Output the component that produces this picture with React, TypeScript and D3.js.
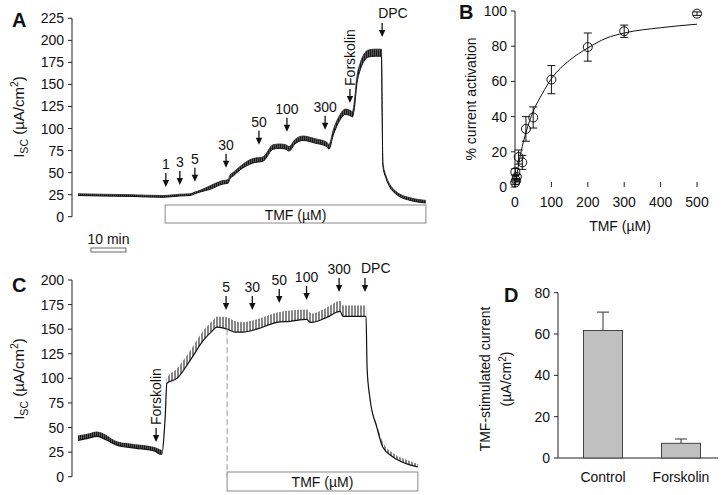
import React from "react";
import * as d3 from "d3";

const FONT = "'Liberation Sans', Arial, Helvetica, sans-serif";

// ---------- Panel A: Isc trace (time in min) ----------
const aTime = [0, 6.3, 14.9, 24.3, 26.3, 29.1, 32, 33.4, 34.9, 37.7, 41.4, 42.9, 43.4, 44.3, 46.3, 49.1, 50.6, 52.6, 53.1, 55.7, 57.7, 59.4, 60.3, 62, 64.3, 67.7, 71.1, 71.7, 72.9, 74.9, 76.3, 78, 78.4, 78.9, 79.7, 80.6, 82, 82.9, 84.9, 86.3, 86.7, 86.9, 87.1, 88, 89.1, 90.6, 92, 94.9, 99.4];
const aLow = [24, 23.5, 23, 22, 22.5, 23.5, 24, 26, 28, 31, 37, 38, 43, 46, 53, 59.5, 61.5, 62.5, 63.5, 76.5, 77.5, 76.5, 74.5, 82.5, 86.5, 83.5, 79.5, 76.5, 92, 110, 116, 114, 113, 121, 151, 166, 178, 181, 182, 182, 182, 118, 58, 43.5, 33.5, 26.5, 22.5, 18.5, 15.5];
const aHigh = [26, 25.5, 25, 24, 24.5, 25.5, 26, 28, 30, 35, 41, 42, 47, 50, 57, 64.5, 66.5, 67.5, 68.5, 81.5, 82.5, 81.5, 79.5, 87.5, 91.5, 88.5, 84.5, 81.5, 98, 116, 122, 120, 119, 129, 159, 174, 186, 189, 190, 190, 190, 122, 62, 46.5, 36.5, 29.5, 25.5, 21.5, 18.5];
const aYTicks = [0, 25, 50, 75, 100, 125, 150, 175, 200, 225];
const aArrowLabels = ["1", "3", "5", "30", "50", "100", "300", "Forskolin", "DPC"];
const aArrowTimes = [25.1, 29.1, 33.4, 42.3, 51.7, 59.7, 70.6, 77.7, 86.9];
const aArrowTips = [33.7, 36, 39.5, 55.4, 81.5, 96.3, 98.6, 129, 203.8];
const aTmfRange = [24.9, 99.4];
const scaleBarMin = [3.7, 13.7];

// ---------- Panel B: dose response ----------
const bConc = [0.5, 1, 3, 5, 10, 20, 30, 50, 100, 200, 300, 500];
const bAct = [2.5, 8.5, 3.8, 5.7, 17, 14, 33, 39.5, 61, 79.5, 88.5, 98.5];
const bErr = [1, 2, 1, 1.5, 4, 4, 7, 6, 8, 8, 3.5, 1];
const bFitX = [0, 5, 10, 20, 30, 50, 75, 100, 150, 200, 250, 300, 400, 500];
const bFitY = [0, 7, 13, 23, 31, 43, 53, 61.5, 72, 79, 84.5, 87.5, 90.5, 92.5];
const bXTicks = [0, 100, 200, 300, 400, 500];
const bYTicks = [0, 20, 40, 60, 80, 100];

// ---------- Panel C: Isc trace with forskolin first ----------
const cTime = [0, 2.9, 5.4, 8.3, 11.1, 16.3, 22, 23.4, 24, 24.9, 25.4, 28.3, 32, 35.7, 38.3, 39.7, 42.6, 44.9, 47.1, 51.1, 56.9, 60.6, 65.4, 66.3, 66.9, 71.1, 74.9, 75.7, 82.3, 82.6, 83.4, 85.4, 87.1, 90, 94, 97.1];
const cLow = [37, 39, 41, 37, 32, 29, 26, 23, 23, 60, 95, 100, 118, 138, 148, 152, 150, 147, 147, 150, 157, 158, 160, 157, 157, 162, 168, 163, 163, 110, 80, 50, 30, 20, 13, 10];
const cHigh = [42, 44, 46, 42, 36, 33, 30, 28, 27, 65, 100, 110, 128, 148, 158, 163, 162, 158, 157, 160, 167, 169, 170, 167, 166, 172, 179, 174, 174, 112, 82, 53, 35, 24, 17, 13];
const cYTicks = [0, 25, 50, 75, 100, 125, 150, 175, 200];
const cArrowLabels = ["Forskolin", "5", "30", "50", "100", "300", "DPC"];
const cArrowTimes = [22.3, 42.3, 49.8, 57.5, 65.3, 74.6, 82];
const cArrowTips = [35.3, 169.5, 169.5, 176.6, 179.7, 187.8, 187.8];
const cTmfRange = [42.6, 97.1];
const cDashTime = 42.6;
const cDashTop = 150;

// ---------- Panel D: bar chart ----------
const dGroups = ["Control", "Forskolin"];
const dValues = [61.7, 7.1];
const dErrors = [8.9, 2.1];
const dYTicks = [0, 20, 40, 60, 80];

function Arrow({ x, tip, len = 14 }: { x: number; tip: number; len?: number }) {
  const head = 7;
  return (
    <g>
      <line x1={x} x2={x} y1={tip - len} y2={tip - head + 1} stroke="#111" strokeWidth={1.3} />
      <path d={`M${x - 3.2},${tip - head} L${x + 3.2},${tip - head} L${x},${tip} Z`} fill="#111" />
    </g>
  );
}

function ArrowSet({ labels, times, tips, tx, ty }: any) {
  return (
    <g>
      {labels.map((lab: string, i: number) => {
        const x = tx(times[i]);
        const tip = ty(tips[i]);
        const top = tip - 14;
        let label;
        if (lab === "Forskolin") {
          label = (
            <text transform={`translate(${x + 5},${top - 3}) rotate(-90)`} fontSize={14}>
              {lab}
            </text>
          );
        } else if (lab === "DPC") {
          label = (
            <text x={x - 4} y={top - 5} fontSize={14}>
              {lab}
            </text>
          );
        } else {
          label = (
            <text x={x} y={top - 4} fontSize={14} textAnchor="middle">
              {lab}
            </text>
          );
        }
        return (
          <g key={lab + i}>
            <Arrow x={x} tip={tip} />
            {label}
          </g>
        );
      })}
    </g>
  );
}

function YAxis({ x, scale, ticks }: any) {
  const [d0, d1] = scale.domain();
  return (
    <g>
      <line x1={x} x2={x} y1={scale(d0)} y2={scale(d1)} stroke="#222" strokeWidth={1} />
      {ticks.map((t: number) => (
        <g key={t}>
          <line x1={x - 4} x2={x} y1={scale(t)} y2={scale(t)} stroke="#222" />
          <text x={x - 8} y={scale(t) + 5} textAnchor="end" fontSize={14}>
            {t}
          </text>
        </g>
      ))}
    </g>
  );
}

function IscLabel({ x, y }: { x: number; y: number }) {
  return (
    <text transform={`translate(${x},${y}) rotate(-90)`} textAnchor="middle" fontSize={15}>
      I
      <tspan fontSize={10.5} dy={3.5}>SC</tspan>
      <tspan dy={-3.5}> (µA/cm</tspan>
      <tspan fontSize={10.5} dy={-6}>2</tspan>
      <tspan dy={6}>)</tspan>
    </text>
  );
}

export default function App() {
  const tx = d3.scaleLinear().domain([0, 100]).range([78, 428]);

  // Panel A
  const ayA = d3.scaleLinear().domain([0, 225]).range([216.7, 18.3]);
  const idxA = d3.range(aTime.length);
  const areaA = d3
    .area<number>()
    .x((i) => tx(aTime[i]))
    .y0((i) => ayA(aLow[i]))
    .y1((i) => ayA(aHigh[i]))
    .curve(d3.curveMonotoneX);
  const lowA = d3.line<number>().x((i) => tx(aTime[i])).y((i) => ayA(aLow[i])).curve(d3.curveMonotoneX);
  const highA = d3.line<number>().x((i) => tx(aTime[i])).y((i) => ayA(aHigh[i])).curve(d3.curveMonotoneX);

  // Panel C
  const ayC = d3.scaleLinear().domain([0, 200]).range([476.7, 280]);
  const areaC = d3
    .area<number>()
    .x((i) => tx(cTime[i]))
    .y0((i) => ayC(cLow[i]))
    .y1((i) => ayC(cHigh[i]))
    .curve(d3.curveMonotoneX);
  const lowC = d3.line<number>().x((i) => tx(cTime[i])).y((i) => ayC(cLow[i])).curve(d3.curveMonotoneX);
  const idxCdark = d3.range(0, 9);
  const idxChatch = d3.range(8, cTime.length);

  // Panel B
  const bx = d3.scaleLinear().domain([0, 500]).range([515, 697]);
  const by = d3.scaleLinear().domain([0, 100]).range([187, 11]);
  const fitLine = d3
    .line<number>()
    .x((i) => bx(bFitX[i]))
    .y((i) => by(bFitY[i]))
    .curve(d3.curveMonotoneX);

  // Panel D
  const dx = d3.scaleBand<string>().domain(dGroups).range([564, 720]).paddingInner(0.5).paddingOuter(0.25);
  const dy = d3.scaleLinear().domain([0, 80]).range([458, 292.7]);

  return (
    <svg
      width={722}
      height={495}
      style={{ position: "absolute", left: 0, top: 0, background: "#fff" }}
      fontFamily={FONT}
      fill="#111"
    >
      <defs>
        <pattern id="hatchA" patternUnits="userSpaceOnUse" width={2} height={20}>
          <rect width={2} height={20} fill="#666" />
          <line x1={0.6} x2={0.6} y1={0} y2={20} stroke="#1a1a1a" strokeWidth={1.2} />
        </pattern>
        <pattern id="hatchC" patternUnits="userSpaceOnUse" width={3} height={20}>
          <rect width={3} height={20} fill="#fff" />
          <line x1={1} x2={1} y1={0} y2={20} stroke="#222" strokeWidth={1.1} />
        </pattern>
      </defs>

      {/* ===== Panel A ===== */}
      <text x={12} y={27} fontSize={20} fontWeight="bold">A</text>
      <YAxis x={72} scale={ayA} ticks={aYTicks} />
      <IscLabel x={24} y={117} />
      <path d={areaA(idxA) || ""} fill="url(#hatchA)" stroke="none" />
      <path d={highA(idxA) || ""} fill="none" stroke="#222" strokeWidth={0.8} />
      <path d={lowA(idxA) || ""} fill="none" stroke="#111" strokeWidth={1} />
      <ArrowSet labels={aArrowLabels} times={aArrowTimes} tips={aArrowTips} tx={tx} ty={ayA} />
      <rect
        x={tx(aTmfRange[0])}
        y={205}
        width={tx(aTmfRange[1]) - tx(aTmfRange[0])}
        height={18}
        fill="#fff"
        stroke="#888"
        strokeWidth={1}
      />
      <text x={(tx(aTmfRange[0]) + tx(aTmfRange[1])) / 2} y={220} textAnchor="middle" fontSize={14}>
        TMF (µM)
      </text>
      <text x={(tx(scaleBarMin[0]) + tx(scaleBarMin[1])) / 2} y={244} textAnchor="middle" fontSize={14}>
        10 min
      </text>
      <rect
        x={tx(scaleBarMin[0])}
        y={248}
        width={tx(scaleBarMin[1]) - tx(scaleBarMin[0])}
        height={4}
        fill="#fff"
        stroke="#666"
        strokeWidth={1}
      />

      {/* ===== Panel B ===== */}
      <text x={459} y={19} fontSize={20} fontWeight="bold">B</text>
      <line x1={515} x2={515} y1={by(0)} y2={by(100)} stroke="#222" />
      {bYTicks.map((t) => (
        <g key={t}>
          <line x1={511} x2={515} y1={by(t)} y2={by(t)} stroke="#222" />
          <text x={507} y={by(t) + 5} textAnchor="end" fontSize={14}>{t}</text>
        </g>
      ))}
      {bXTicks.map((t) => (
        <g key={t}>
          <line x1={bx(t)} x2={bx(t)} y1={by(0)} y2={by(0) - 5} stroke="#222" />
          <text x={bx(t)} y={207} textAnchor="middle" fontSize={14}>{t}</text>
        </g>
      ))}
      <text x={620} y={231} textAnchor="middle" fontSize={14}>TMF (µM)</text>
      <text transform={`translate(476,99) rotate(-90)`} textAnchor="middle" fontSize={14}>
        % current activation
      </text>
      <path d={fitLine(d3.range(bFitX.length)) || ""} fill="none" stroke="#111" strokeWidth={1} />
      {bConc.map((c, i) => {
        const x = bx(c);
        return (
          <g key={i}>
            <line x1={x} x2={x} y1={by(bAct[i] - bErr[i])} y2={by(bAct[i] + bErr[i])} stroke="#111" />
            <line x1={x - 4} x2={x + 4} y1={by(bAct[i] - bErr[i])} y2={by(bAct[i] - bErr[i])} stroke="#111" />
            <line x1={x - 4} x2={x + 4} y1={by(bAct[i] + bErr[i])} y2={by(bAct[i] + bErr[i])} stroke="#111" />
            <circle cx={x} cy={by(bAct[i])} r={4.5} fill="none" stroke="#111" strokeWidth={1} />
          </g>
        );
      })}

      {/* ===== Panel C ===== */}
      <text x={12} y={292} fontSize={20} fontWeight="bold">C</text>
      <YAxis x={72} scale={ayC} ticks={cYTicks} />
      <IscLabel x={24} y={379} />
      <path d={areaC(idxCdark) || ""} fill="url(#hatchA)" stroke="none" />
      <path d={areaC(idxChatch) || ""} fill="url(#hatchC)" stroke="none" />
      <path d={lowC(d3.range(cTime.length)) || ""} fill="none" stroke="#111" strokeWidth={1.2} />
      <line
        x1={tx(cDashTime)}
        x2={tx(cDashTime)}
        y1={ayC(cDashTop)}
        y2={ayC(0)}
        stroke="#999"
        strokeWidth={1}
        strokeDasharray="6,3"
      />
      <ArrowSet labels={cArrowLabels} times={cArrowTimes} tips={cArrowTips} tx={tx} ty={ayC} />
      <rect
        x={tx(cTmfRange[0])}
        y={472}
        width={tx(cTmfRange[1]) - tx(cTmfRange[0])}
        height={19}
        fill="#fff"
        stroke="#888"
        strokeWidth={1}
      />
      <text x={(tx(cTmfRange[0]) + tx(cTmfRange[1])) / 2} y={487} textAnchor="middle" fontSize={14}>
        TMF (µM)
      </text>

      {/* ===== Panel D ===== */}
      <text x={504} y={302} fontSize={20} fontWeight="bold">D</text>
      <line x1={558} x2={558} y1={dy(0)} y2={dy(80)} stroke="#222" />
      {dYTicks.map((t) => (
        <g key={t}>
          <line x1={554} x2={558} y1={dy(t)} y2={dy(t)} stroke="#222" />
          <text x={550} y={dy(t) + 5} textAnchor="end" fontSize={14}>{t}</text>
        </g>
      ))}
      <line x1={558} x2={718} y1={dy(0)} y2={dy(0)} stroke="#222" />
      {dGroups.map((g, i) => {
        const x0 = dx(g) as number;
        const w = dx.bandwidth();
        const cx = x0 + w / 2;
        return (
          <g key={g}>
            <line x1={cx} x2={cx} y1={dy(dValues[i])} y2={dy(dValues[i] + dErrors[i])} stroke="#333" />
            <line x1={cx - 6} x2={cx + 6} y1={dy(dValues[i] + dErrors[i])} y2={dy(dValues[i] + dErrors[i])} stroke="#333" />
            <rect x={x0} y={dy(dValues[i])} width={w} height={dy(0) - dy(dValues[i])} fill="#c0c0c0" stroke="#444" />
            <text x={cx} y={482} textAnchor="middle" fontSize={14}>{g}</text>
          </g>
        );
      })}
      <text transform={`translate(490,379) rotate(-90)`} textAnchor="middle" fontSize={14}>
        TMF-stimulated current
      </text>
      <text transform={`translate(511,379) rotate(-90)`} textAnchor="middle" fontSize={14}>
        (µA/cm<tspan fontSize={10} dy={-5}>2</tspan><tspan dy={5}>)</tspan>
      </text>
    </svg>
  );
}
